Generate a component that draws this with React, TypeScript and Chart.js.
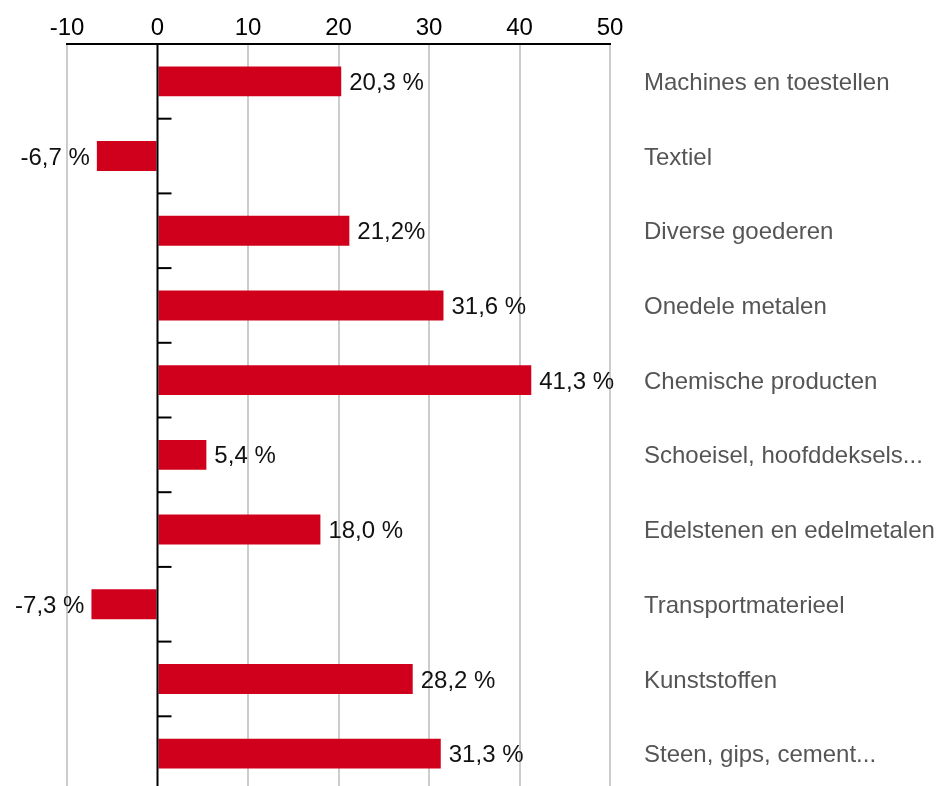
import React, { useEffect, useRef } from "react";
import { Chart, registerables } from "chart.js";

Chart.register(...registerables);

const categories = [
  "Machines en toestellen",
  "Textiel",
  "Diverse goederen",
  "Onedele metalen",
  "Chemische producten",
  "Schoeisel, hoofddeksels...",
  "Edelstenen en edelmetalen",
  "Transportmaterieel",
  "Kunststoffen",
  "Steen, gips, cement...",
];
const values = [20.3, -6.7, 21.2, 31.6, 41.3, 5.4, 18.0, -7.3, 28.2, 31.3];
const valueLabels = ["20,3 %", "-6,7 %", "21,2%", "31,6 %", "41,3 %", "5,4 %", "18,0 %", "-7,3 %", "28,2 %", "31,3 %"];
const xMin = -10;
const xMax = 50;
const xStep = 10;

const FONT = "'Liberation Sans', Arial, Helvetica, sans-serif";

const zeroTicksPlugin = {
  id: "zeroTicks",
  afterDatasetsDraw(chart: any) {
    const { ctx } = chart;
    const xs = chart.scales.x;
    const ys = chart.scales.y;
    const x0 = xs.getPixelForValue(0);
    ctx.save();
    ctx.strokeStyle = "#000";
    ctx.lineWidth = 2;
    ctx.beginPath();
    ctx.moveTo(x0, chart.chartArea.top);
    ctx.lineTo(x0, chart.chartArea.bottom);
    ctx.stroke();
    for (let i = 0; i < categories.length - 1; i++) {
      const y = (ys.getPixelForValue(i) + ys.getPixelForValue(i + 1)) / 2;
      ctx.beginPath();
      ctx.moveTo(x0, y);
      ctx.lineTo(x0 + 14, y);
      ctx.stroke();
    }
    ctx.restore();
  },
};

const valueLabelPlugin = {
  id: "valueLabels",
  afterDatasetsDraw(chart: any) {
    const { ctx } = chart;
    const meta = chart.getDatasetMeta(0);
    ctx.save();
    ctx.font = `24px ${FONT}`;
    ctx.fillStyle = "#111";
    ctx.textBaseline = "middle";
    meta.data.forEach((bar: any, i: number) => {
      const v = values[i];
      if (v >= 0) {
        ctx.textAlign = "left";
        ctx.fillText(valueLabels[i], bar.x + 8, bar.y + 2);
      } else {
        ctx.textAlign = "right";
        ctx.fillText(valueLabels[i], bar.x - 7, bar.y + 2);
      }
    });
    ctx.restore();
  },
};

export default function App() {
  const ref = useRef<HTMLCanvasElement>(null);
  useEffect(() => {
    if (!ref.current) return;
    const chart = new Chart(ref.current, {
      type: "bar",
      data: {
        labels: categories,
        datasets: [
          {
            data: values,
            backgroundColor: "#d0001c",
            barPercentage: 0.4,
            categoryPercentage: 1,
          },
        ],
      },
      options: {
        indexAxis: "y",
        animation: false,
        responsive: false,
        devicePixelRatio: 1,
        layout: { padding: { left: 67, right: 0, top: 0, bottom: 0 } },
        plugins: { legend: { display: false }, tooltip: { enabled: false } },
        scales: {
          x: {
            position: "top",
            min: xMin,
            max: xMax,
            ticks: {
              stepSize: xStep,
              color: "#000",
              font: { family: FONT, size: 24 },
              padding: 1,
            },
            grid: {
              color: (c: any) => (c.tick && c.tick.value === 0 ? "rgba(0,0,0,0)" : "#cccccc"),
              lineWidth: 2,
              drawTicks: false,
            },
            border: { display: true, color: "#000", width: 2 },
            afterFit: (s: any) => {
              s.height = 44;
            },
          },
          y: {
            position: "right",
            ticks: {
              color: "#555",
              font: { family: FONT, size: 24 },
              padding: 34,
              labelOffset: 2,
            },
            grid: { display: false, drawTicks: false },
            border: { display: false },
            afterFit: (s: any) => {
              s.width = 329;
              s.paddingTop = 0;
              s.paddingBottom = 0;
            },
          },
        },
      },
      plugins: [zeroTicksPlugin, valueLabelPlugin],
    });
    return () => chart.destroy();
  }, []);
  return (
    <div style={{ position: "fixed", left: 0, top: 0, width: 939, height: 786, overflow: "hidden", background: "#fff" }}>
      <canvas ref={ref} width={939} height={791} style={{ width: 939, height: 791, display: "block" }} />
    </div>
  );
}
